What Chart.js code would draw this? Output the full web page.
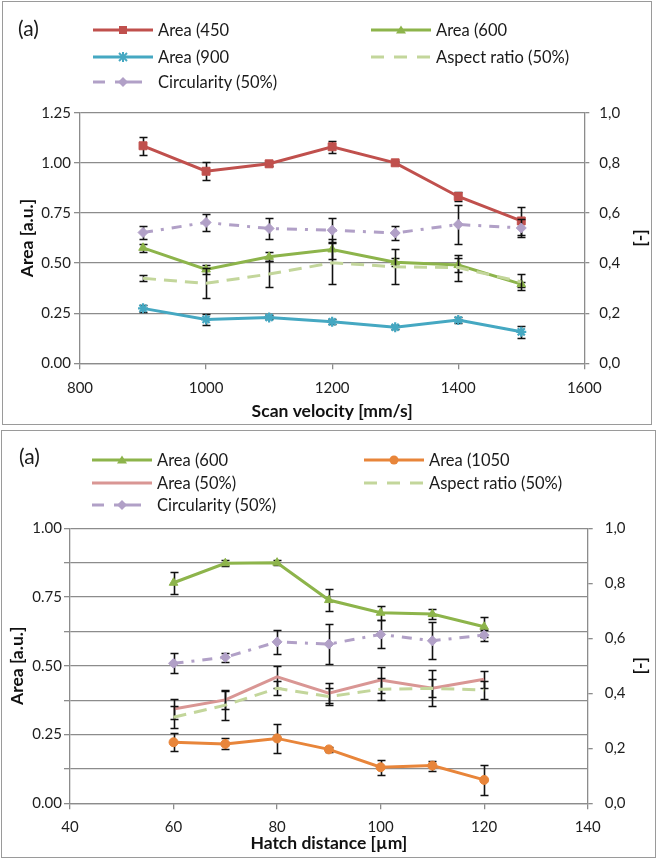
<!DOCTYPE html>
<html>
<head>
<meta charset="utf-8">
<script src="https://cdn.jsdelivr.net/npm/chart.js@4.4.1/dist/chart.umd.min.js"></script>
<style>
  html, body { margin: 0; padding: 0; background: #fff; }
  body { width: 656px; height: 858px; position: relative; overflow: hidden;
         font-family: Lato, "Open Sans", "DejaVu Sans", sans-serif; color: #1a1a1a; }
  .frame { position: absolute; border: 1.5px solid #9a9a9a; box-sizing: border-box; pointer-events: none; }
  .plot { position: absolute; left: 0; }
  .tag { position: absolute; font-size: 21px; line-height: 24px; height: 24px; }
  .leg { position: absolute; display: flex; align-items: center; height: 20px;
         font-size: 16.5px; white-space: nowrap; }
  .leg svg { margin-right: 5px; flex: none; }
</style>
</head>
<body>
<div class="frame" style="left:2px;top:1px;width:650px;height:424px"></div>
<div class="frame" style="left:1px;top:430px;width:655px;height:428px"></div>
<canvas id="velocityChart" class="plot" width="656" height="428" style="top:0"></canvas>
<canvas id="hatchChart" class="plot" width="656" height="428" style="top:430px"></canvas>
<div id="legends"></div>

<script>
// ---- Scan velocity study ----
const velocity      = [900, 1000, 1100, 1200, 1300, 1400, 1500];
const velocityTicks = [800, 1000, 1200, 1400, 1600];
const areaTicksV    = [0, 0.25, 0.5, 0.75, 1.0, 1.25];
const ratioTicks    = [0, 0.2, 0.4, 0.6, 0.8, 1.0];

const area450     = [1.085, 0.958, 0.995, 1.080, 1.000, 0.832, 0.710];
const area450Err  = [0.045, 0.044, 0.012, 0.030, 0.010, 0.022, 0.070];
const area600V    = [0.576, 0.468, 0.531, 0.568, 0.504, 0.490, 0.395];
const area600VErr = [0.021, 0.024, 0.022, 0.050, 0.020, 0.033, 0.012];
const area900     = [0.274, 0.219, 0.229, 0.207, 0.180, 0.216, 0.157];
const area900Err  = [0.018, 0.027, 0.010, 0.012, 0.010, 0.015, 0.030];
const aspectV     = [0.339, 0.319, 0.356, 0.401, 0.385, 0.382, 0.325];
const aspectVErr  = [0.012, 0.060, 0.053, 0.085, 0.070, 0.052, 0.032];
const circV       = [0.522, 0.562, 0.538, 0.531, 0.520, 0.554, 0.540];
const circVErr    = [0.024, 0.034, 0.040, 0.050, 0.028, 0.078, 0.036];

// ---- Hatch distance study ----
const hatch       = [60, 70, 80, 90, 100, 110, 120];
const hatchTicks  = [40, 60, 80, 100, 120, 140];
const areaTicksH  = [0, 0.25, 0.5, 0.75, 1.0];

const area600H    = [0.802, 0.873, 0.875, 0.739, 0.693, 0.688, 0.642];
const area600HErr = [0.040, 0.010, 0.008, 0.039, 0.025, 0.017, 0.036];
const area1050    = [0.222, 0.216, 0.236, 0.196, 0.131, 0.137, 0.085];
const area1050Err = [0.033, 0.020, 0.053, 0.008, 0.027, 0.018, 0.055];
const area50      = [0.343, 0.376, 0.460, 0.400, 0.448, 0.418, 0.451];
const area50Err   = [0.036, 0.034, 0.040, 0.036, 0.046, 0.065, 0.030];
const aspectH     = [0.313, 0.357, 0.418, 0.388, 0.415, 0.418, 0.412];
const aspectHErr  = [0.040, 0.055, 0.025, 0.030, 0.041, 0.033, 0.034];
const circH       = [0.509, 0.531, 0.587, 0.579, 0.614, 0.591, 0.612];
const circHErr    = [0.036, 0.016, 0.044, 0.073, 0.051, 0.068, 0.020];

// ---- styling ----
const FONT = 'Lato, "Open Sans", "DejaVu Sans", sans-serif';
const AXIS = '#8c8c8c';
const TEXT = '#1e1e1e';
const TITLE_FONT = { size: 17.5, weight: 'bold' };
Chart.defaults.font.family = FONT;
Chart.defaults.color = TEXT;

const STYLE = {
  red:    { color: '#c0504d', marker: 'square' },
  green:  { color: '#8db44b', marker: 'triangle' },
  aqua:   { color: '#45a8c2', marker: 'star' },
  orange: { color: '#e8853a', marker: 'circle' },
  pink:   { color: '#d99694', marker: null },
  aspect: { color: '#c3d69b', marker: null, dash: [13, 8], segs: [[0, 13], [23, 36], [46, 59]] },
  circ:   { color: '#b1a0c7', marker: 'diamond', dash: [10, 8, 3, 8], segs: [[0, 12], [22, 49]] }
};
const CHART_STYLE = { square: 'rect', triangle: 'triangle', star: 'star', circle: 'circle', diamond: 'rectRot' };
const CHART_RADIUS = { square: 5.6, triangle: 5, star: 5, circle: 4.5, diamond: 5 };

function series(label, xs, ys, errs, style, axis, order) {
  const s = STYLE[style];
  return {
    label,
    data: xs.map((x, i) => ({ x, y: ys[i] })),
    errorBars: errs,
    yAxisID: axis,
    order,
    borderColor: s.color,
    backgroundColor: s.color,
    borderWidth: 3,
    borderDash: s.dash || [],
    tension: 0,
    pointStyle: s.marker ? CHART_STYLE[s.marker] : false,
    pointRadius: s.marker ? CHART_RADIUS[s.marker] : 0,
    pointBorderWidth: s.marker === 'star' ? 2.2 : 1,
    pointBorderColor: s.color,
    pointBackgroundColor: s.color,
    legendStyle: style
  };
}

// error bars sit under their own series' line and markers
const errorBarPlugin = {
  id: 'errorBars',
  beforeDatasetDraw(chart, args) {
    const ds = chart.data.datasets[args.index];
    if (!ds.errorBars) return;
    const meta = args.meta;
    const ys = chart.scales[meta.yAxisID];
    const ctx = chart.ctx;
    ctx.save();
    ctx.strokeStyle = '#111';
    ctx.lineWidth = 1.6;
    ctx.setLineDash([]);
    meta.data.forEach((pt, i) => {
      const v = ds.data[i].y, e = ds.errorBars[i];
      const top = Math.round(ys.getPixelForValue(v + e)) + 0.5;
      const bot = Math.round(ys.getPixelForValue(v - e)) + 0.5;
      const x = Math.round(pt.x) + 0.5;
      ctx.beginPath();
      ctx.moveTo(x, top); ctx.lineTo(x, bot);
      ctx.moveTo(x - 4, top); ctx.lineTo(x + 4, top);
      ctx.moveTo(x - 4, bot); ctx.lineTo(x + 4, bot);
      ctx.stroke();
    });
    ctx.restore();
  }
};

function isQuarter(v) { return Math.abs(v * 4 - Math.round(v * 4)) < 1e-6; }

function buildChart(id, datasets, o) {
  const xT = o.xTicks, yT = o.yTicks;
  return new Chart(document.getElementById(id), {
    type: 'line',
    data: { datasets },
    plugins: [errorBarPlugin],
    options: {
      responsive: false,
      animation: false,
      devicePixelRatio: 1,
      layout: { padding: { top: o.top, left: 0, right: 0, bottom: 0 } },
      plugins: { legend: { display: false }, tooltip: { enabled: false } },
      scales: {
        x: {
          type: 'linear',
          min: xT[0], max: xT[xT.length - 1],
          ticks: { stepSize: xT[1] - xT[0], padding: o.xPad, color: TEXT, font: { size: 15 },
                   callback: v => String(v) },
          grid: { drawOnChartArea: false, tickLength: 6, color: AXIS, lineWidth: 1.3 },
          border: { color: AXIS, width: 1.3 },
          title: { display: true, text: o.xTitle, color: '#111', font: TITLE_FONT,
                   padding: { top: 0, bottom: o.xTitlePad } },
          afterFit: s => { s.height = o.xHeight; }
        },
        y: {
          position: 'left',
          min: yT[0], max: yT[yT.length - 1],
          ticks: {
            stepSize: o.yMinor ? (yT[1] - yT[0]) / 2 : yT[1] - yT[0],
            padding: o.yPad, color: TEXT, font: { size: 15 },
            autoSkip: false,
            callback: v => isQuarter(v) ? v.toFixed(2) : ''
          },
          grid: { color: AXIS, lineWidth: 1.3, tickLength: 6 },
          border: { color: AXIS, width: 1.3 },
          title: { display: true, text: 'Area [a.u.]', color: '#111', font: TITLE_FONT,
                   padding: { top: o.yTitlePad, bottom: 0 } },
          afterFit: s => { s.width = o.yWidth; }
        },
        y1: {
          position: 'right',
          min: ratioTicks[0], max: ratioTicks[ratioTicks.length - 1],
          ticks: {
            stepSize: ratioTicks[1] - ratioTicks[0],
            padding: o.y1Pad, color: TEXT, font: { size: 15 },
            callback: v => v.toFixed(1).replace('.', ',')
          },
          grid: { drawOnChartArea: false, color: AXIS, lineWidth: 1.3, tickLength: 5 },
          border: { color: AXIS, width: 1.3 },
          title: { display: true, text: '[-]', color: '#111', font: TITLE_FONT,
                   padding: { top: o.y1TitlePad, bottom: 0 } },
          afterFit: s => { s.width = o.y1Width; }
        }
      }
    }
  });
}

const velocitySets = [
  series('Area (450', velocity, area450, area450Err, 'red', 'y', 0),
  series('Area (600', velocity, area600V, area600VErr, 'green', 'y', -1),
  series('Area (900', velocity, area900, area900Err, 'aqua', 'y', -2),
  series('Aspect ratio (50%)', velocity, aspectV, aspectVErr, 'aspect', 'y1', -3),
  series('Circularity (50%)', velocity, circV, circVErr, 'circ', 'y1', -4)
];
const hatchSets = [
  series('Area (600', hatch, area600H, area600HErr, 'green', 'y', 0),
  series('Area (1050', hatch, area1050, area1050Err, 'orange', 'y', -1),
  series('Area (50%)', hatch, area50, area50Err, 'pink', 'y', -2),
  series('Aspect ratio (50%)', hatch, aspectH, aspectHErr, 'aspect', 'y1', -3),
  series('Circularity (50%)', hatch, circH, circHErr, 'circ', 'y1', -4)
];

buildChart('velocityChart', velocitySets, {
  xTicks: velocityTicks, yTicks: areaTicksV, yMinor: false,
  xTitle: 'Scan velocity [mm/s]',
  top: 112.7, xHeight: 64.7, yWidth: 80, y1Width: 71.7,
  xPad: 9.7, xTitlePad: 6.5, yPad: 3, yTitlePad: 17, y1Pad: 10, y1TitlePad: 3.5
});
buildChart('hatchChart', hatchSets, {
  xTicks: hatchTicks, yTicks: areaTicksH, yMinor: true,
  xTitle: 'Hatch distance [\u00b5m]',
  top: 98.3, xHeight: 54.7, yWidth: 70, y1Width: 68.3,
  xPad: 8.7, xTitlePad: 4.5, yPad: 2, yTitlePad: 7, y1Pad: 12, y1TitlePad: 3.8
});

// ---- legends (two columns, filled row by row) ----
function markerSvg(kind, c, cx, cy) {
  switch (kind) {
    case 'square':   return `<rect x="${cx - 4}" y="${cy - 4}" width="8" height="8" fill="${c}"/>`;
    case 'triangle': return `<polygon points="${cx},${cy - 4.5} ${cx + 5},${cy + 3.5} ${cx - 5},${cy + 3.5}" fill="${c}"/>`;
    case 'circle':   return `<circle cx="${cx}" cy="${cy}" r="4.5" fill="${c}"/>`;
    case 'diamond':  return `<polygon points="${cx},${cy - 5} ${cx + 5},${cy} ${cx},${cy + 5} ${cx - 5},${cy}" fill="${c}"/>`;
    case 'star':     return `<g stroke="${c}" stroke-width="2"><line x1="${cx - 4}" y1="${cy - 4}" x2="${cx + 4}" y2="${cy + 4}"/>` +
                            `<line x1="${cx - 4}" y1="${cy + 4}" x2="${cx + 4}" y2="${cy - 4}"/>` +
                            `<line x1="${cx}" y1="${cy - 5}" x2="${cx}" y2="${cy + 5}"/></g>`;
  }
  return '';
}
function sampleSvg(styleKey) {
  const s = STYLE[styleKey];
  const segs = s.segs || [[0, 60]];
  let body = segs.map(([a, b]) =>
    `<line x1="${a}" y1="7" x2="${b}" y2="7" stroke="${s.color}" stroke-width="3"/>`).join('');
  if (s.marker) body += markerSvg(s.marker, s.color, 30, 7);
  return `<svg width="60" height="14" viewBox="0 0 60 14">${body}</svg>`;
}
function placeLegend(sets, cols, rows, tagPos) {
  const host = document.getElementById('legends');
  const tag = document.createElement('div');
  tag.className = 'tag';
  tag.textContent = '(a)';
  tag.style.left = tagPos[0] + 'px';
  tag.style.top = (tagPos[1] - 12) + 'px';
  host.appendChild(tag);
  sets.forEach((ds, i) => {
    const el = document.createElement('div');
    el.className = 'leg';
    el.style.left = cols[i % 2] + 'px';
    el.style.top = (rows[Math.floor(i / 2)] - 10) + 'px';
    el.innerHTML = sampleSvg(ds.legendStyle);
    const t = document.createElement('span');
    t.textContent = ds.label;
    el.appendChild(t);
    host.appendChild(el);
  });
}
placeLegend(velocitySets, [93, 371], [30, 57, 82], [18, 28]);
placeLegend(hatchSets, [92, 364], [460, 483, 505], [19, 456]);
</script>
</body>
</html>
